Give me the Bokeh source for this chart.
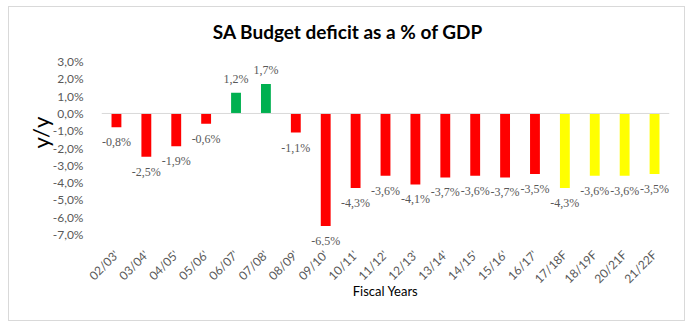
import math
from bokeh.plotting import figure
from bokeh.models import (ColumnDataSource, Range1d, FixedTicker, Span, LabelSet, Label)
from bokeh.embed import file_html
from bokeh.resources import INLINE

years = ["02/03'", "03/04'", "04/05'", "05/06'", "06/07'", "07/08'", "08/09'", "09/10'",
         "10/11'", "11/12'", "12/13'", "13/14'", "14/15'", "15/16'", "16/17'",
         "17/18F", "18/19F", "20/21F", "21/22F"]
deficit = [-0.8, -2.5, -1.9, -0.6, 1.2, 1.7, -1.1, -6.5, -4.3, -3.6, -4.1, -3.7, -3.6,
           -3.7, -3.5, -4.3, -3.6, -3.6, -3.5]
kind = ["actual"] * 15 + ["forecast"] * 4
y_ticks = [-7, -6, -5, -4, -3, -2, -1, 0, 1, 2, 3]
title_text = "SA Budget deficit as a % of GDP"

RED, GREEN, YELLOW = "#FF0000", "#00B050", "#FFFF00"
colors = []
for v, k in zip(deficit, kind):
    if k == "forecast":
        colors.append(YELLOW)
    elif v > 0:
        colors.append(GREEN)
    else:
        colors.append(RED)

labels = [f"{v:.1f}%".replace(".", ",") for v in deficit]
offsets = [14 if v > 0 else -15 for v in deficit]

src = ColumnDataSource(dict(x=years, top=deficit, color=colors, label=labels, off=offsets))

FONT = "Lato"
GREY = "#595959"
Y_MAX = 3
# frame extended beyond the tick span so that the title and the data labels are not clipped
Y_RANGE = (-7.63, 5.43)

p = figure(x_range=years, y_range=Range1d(*Y_RANGE), width=677, height=315,
           output_backend="svg", toolbar_location=None,
           min_border_left=92, min_border_right=17, min_border_top=12, min_border_bottom=77,
           margin=(6, 11, 9, 8),
           styles={"border": "1px solid #d9d9d9", "box-sizing": "border-box"})

p.vbar(x="x", top="top", bottom=0, width=0.33, color="color", source=src, line_color=None)

p.add_layout(Span(location=0, dimension="width", line_color="#d9d9d9", line_width=1))

p.add_layout(LabelSet(x="x", y="top", text="label", y_offset="off", source=src,
                      text_align="center", text_baseline="middle",
                      text_font=FONT, text_font_size="12px", text_color=GREY))

p.grid.visible = False
p.outline_line_color = None

# Y axis
p.yaxis.ticker = FixedTicker(ticks=y_ticks)
p.yaxis.major_label_overrides = {t: f"{t:.1f}%".replace(".", ",") for t in y_ticks}
p.yaxis.axis_line_color = None
p.yaxis.major_tick_line_color = None
p.yaxis.minor_tick_line_color = None
p.yaxis.major_label_standoff = 12
p.yaxis.major_label_text_font = FONT
p.yaxis.major_label_text_font_size = "12px"
p.yaxis.major_label_text_color = GREY
p.yaxis.axis_label = "y/y"
p.yaxis.axis_label_text_font = FONT
p.yaxis.axis_label_text_font_size = "22px"
p.yaxis.axis_label_text_font_style = "normal"
p.yaxis.axis_label_text_color = "#000000"
p.yaxis.axis_label_standoff = -4

# X axis
p.xaxis.axis_line_color = None
p.xaxis.major_tick_line_color = None
p.xaxis.minor_tick_line_color = None
p.xaxis.major_label_orientation = math.pi / 4
p.xaxis.major_label_standoff = 1
p.xaxis.major_label_text_font = FONT
p.xaxis.major_label_text_font_size = "12px"
p.xaxis.major_label_text_color = GREY
p.xaxis.axis_label = "Fiscal Years"
p.xaxis.axis_label_text_font = FONT
p.xaxis.axis_label_text_font_size = "13px"
p.xaxis.axis_label_text_font_style = "normal"
p.xaxis.axis_label_text_color = "#000000"
p.xaxis.axis_label_standoff = -11

# Chart title (centred over the whole chart area, not the plot frame)
p.title.visible = False
p.add_layout(Label(x=len(years) / 2, y=Y_MAX, x_offset=-37.5, y_offset=30,
                   text=title_text, text_align="center", text_baseline="middle",
                   text_font=FONT, text_font_size="19px", text_font_style="bold",
                   text_color="#000000"))

open("out.html", "w").write(file_html(p, INLINE))
